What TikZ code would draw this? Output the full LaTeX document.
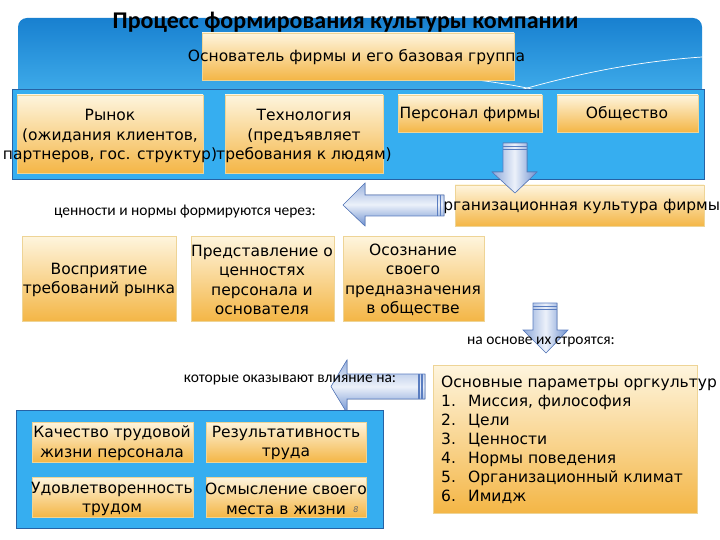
\documentclass[tikz,border=0pt]{standalone}
\usepackage{fontspec}
\setmainfont{DejaVu Sans}
\newfontfamily\carlito{Carlito}
\usetikzlibrary{positioning}
\definecolor{skyfill}{RGB}{54,174,240}
\definecolor{skyline}{RGB}{38,98,165}
\definecolor{headtop}{RGB}{24,128,208}
\definecolor{headbot}{RGB}{72,182,240}
\definecolor{creamtop}{RGB}{254,245,222}
\definecolor{amberbot}{RGB}{244,182,70}
\definecolor{amberline}{RGB}{238,212,150}
\definecolor{arrowlight}{RGB}{236,241,250}
\definecolor{arrowdark}{RGB}{110,145,208}
\definecolor{arrowline}{RGB}{90,125,192}

\tikzset{
  boxtext/.style={font=\fontsize{15.5}{19.5}\selectfont,align=center,inner sep=0pt},
  note/.style={font=\carlito\fontsize{15.5}{18}\selectfont,inner sep=0pt},
  ambox/.style={top color=creamtop,bottom color=amberbot,draw=amberline,line width=0.6pt},
  skybox/.style={fill=skyfill,draw=skyline,line width=0.8pt},
  downarrow/.style={left color=arrowdark!80,right color=arrowdark,middle color=arrowlight,draw=arrowline,line width=0.6pt},
  leftarrow/.style={top color=arrowdark!70,bottom color=arrowdark,middle color=arrowlight,draw=arrowline,line width=0.6pt},
  stripe/.style={arrowline,line width=1.1pt},
}

\begin{document}
\begin{tikzpicture}[x=1pt,y=-1pt]
\useasboundingbox (0,0) rectangle (720,540);

% header strip of the slide
\path[top color=headtop,bottom color=headbot,rounded corners=9pt] (18,18) rectangle (702,110);
\draw[white,line width=0.7pt] (702,57) .. controls (630,62) and (570,76) .. (520,90);
\draw[white,line width=0.7pt] (468,79) .. controls (495,82) and (520,86) .. (545,92);
\node[font=\carlito\bfseries\fontsize{24}{27}\selectfont,anchor=base,inner sep=0pt] (title) at (345.5,29) {Процесс формирования культуры компании};

\path[ambox] (202,33) rectangle (514,80);
\node[boxtext] (founder) at (356.5,57) {Основатель фирмы и его базовая группа};

% first row
\path[skybox] (12,89) rectangle (704,179);
\path[ambox] (17,95) rectangle (203,173);
\path[ambox] (225,95) rectangle (383,173);
\path[ambox] (398,95) rectangle (542,132);
\path[ambox] (557,95) rectangle (698,132);
\node[boxtext] (market) at (110,136) {Рынок\\(ожидания клиентов,\\партнеров, гос. структур)};
\node[boxtext] (techno) at (304,136) {Технология\\(предъявляет\\требования к людям)};
\node[boxtext] (staff) at (470,114) {Персонал фирмы};
\node[boxtext] (society) at (627,114) {Общество};

% organisational culture
\path[ambox] (455,185) rectangle (704,226);
\node[boxtext] (orgcult) at (577,206) {организационная культура фирмы};

\filldraw[downarrow] (503,143) -- (527,143) -- (527,172) -- (537,172) -- (515,193) -- (492,172) -- (503,172) -- cycle;
\draw[stripe] (503,146.5) -- (527,146.5);
\draw[stripe] (503,149.5) -- (527,149.5);

\filldraw[leftarrow] (444,195) -- (365,195) -- (365,183) -- (343,205) -- (365,226) -- (365,216) -- (444,216) -- cycle;
\draw[stripe] (437.5,195) -- (437.5,216);
\draw[stripe] (440.7,195) -- (440.7,216);
\node[note] (valnote) at (185,212) {ценности и нормы формируются через:};

% second row
\path[ambox] (22,236) rectangle (176,321);
\path[ambox] (191,236) rectangle (334,321);
\path[ambox] (343,236) rectangle (484,321);
\node[boxtext] (percept) at (99,280) {Восприятие\\требований рынка};
\node[boxtext] (ideas) at (262,280) {Представление о\\ценностях\\персонала и\\основателя};
\node[boxtext] (mission) at (413,280) {Осознание\\своего\\предназначения\\в обществе};

\filldraw[downarrow] (533,303) -- (557,303) -- (557,330) -- (568,330) -- (546,353) -- (523,330) -- (533,330) -- cycle;
\draw[stripe] (533,306.5) -- (557,306.5);
\draw[stripe] (533,309.5) -- (557,309.5);
\node[note] (basenote) at (541,342) {на основе их строятся:};

% parameters
\path[ambox] (433,365) rectangle (697,513);
\node[boxtext,anchor=base west] (params) at (441,387) {Основные параметры оргкультур};
\foreach \n/\item in {1/{Миссия, философия},2/Цели,3/Ценности,4/Нормы поведения,5/Организационный климат,6/Имидж}{
  \node[boxtext,anchor=base west] (num\n) at (441,387+19*\n) {\n.};
  \node[boxtext,anchor=base west] (item\n) at (468,387+19*\n) {\item};
}

\filldraw[leftarrow] (425,374) -- (347,374) -- (347,360) -- (331,386.5) -- (347,413) -- (347,399) -- (425,399) -- cycle;
\draw[stripe] (419,374) -- (419,399);
\draw[stripe] (422,374) -- (422,399);
\node[note] (infnote) at (290,380) {которые оказывают влияние на:};

% results
\path[skybox] (16,410) rectangle (383,528);
\path[ambox] (32,422) rectangle (193,462);
\path[ambox] (206,422) rectangle (366,462);
\path[ambox] (32,477) rectangle (193,517);
\path[ambox] (206,477) rectangle (366,517);
\node[boxtext] (quality) at (112,443) {Качество трудовой\\жизни персонала};
\node[boxtext] (result) at (286,443) {Результативность\\труда};
\node[boxtext] (satisf) at (112,499) {Удовлетворенность\\трудом};
\node[boxtext] (meaning) at (286,499) {Осмысление своего\\места в жизни};
\node[font=\itshape\fontsize{8}{8}\selectfont,text=black!60,inner sep=0pt] (slidenum) at (356,510) {8};
\end{tikzpicture}
\end{document}
